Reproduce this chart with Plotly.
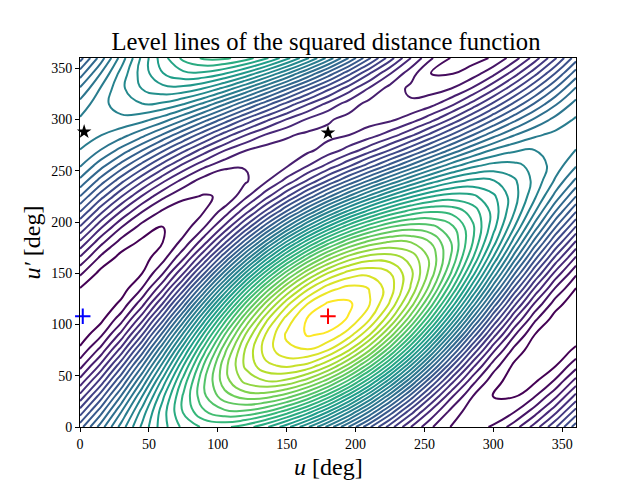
#!/usr/bin/env python
"""Level lines of the squared distance function, with the critical points marked."""

import numpy as np
import plotly.graph_objects as go

# grid of the two angles, degrees; the field repeats after 360 in both
U_DEG = list(range(0, 361, 15))
UP_DEG = list(range(0, 361, 15))

# level values per u column, u' = 0, 15, ..., 345 (estimated by counting level lines)
COL_000 = [10.56, 8.45, 6.33, 4.34, 2.60, 1.24, 0.36, 0.00, 0.21, 0.96, 2.19, 3.84, 5.78, 7.89, 10.01, 12.00, 13.74, 15.10, 15.98, 16.34, 16.13, 15.38, 14.15, 12.50]
COL_015 = [13.47, 11.59, 9.50, 7.32, 5.22, 3.34, 1.79, 0.71, 0.13, 0.13, 0.68, 1.76, 3.29, 5.17, 7.27, 9.45, 11.54, 13.43, 14.97, 16.05, 16.64, 16.64, 16.09, 15.00]
COL_030 = [16.44, 14.98, 13.12, 10.97, 8.71, 6.45, 4.37, 2.60, 1.26, 0.48, 0.25, 0.63, 1.58, 3.03, 4.89, 7.05, 9.31, 11.57, 13.65, 15.42, 16.73, 17.54, 17.77, 17.38]
COL_045 = [19.23, 18.39, 16.97, 15.08, 12.85, 10.41, 7.95, 5.65, 3.62, 2.04, 0.98, 0.56, 0.77, 1.60, 3.02, 4.91, 7.14, 9.58, 12.04, 14.35, 16.37, 17.96, 19.02, 19.45]
COL_060 = [21.59, 21.53, 20.76, 19.35, 17.38, 15.02, 12.39, 9.67, 7.08, 4.78, 2.92, 1.61, 1.00, 0.98, 1.82, 3.23, 5.19, 7.56, 10.19, 12.91, 15.50, 17.80, 19.67, 20.97]
COL_075 = [23.28, 24.11, 24.15, 23.40, 21.96, 19.88, 17.30, 14.44, 11.45, 8.57, 5.96, 3.82, 2.31, 1.49, 1.44, 2.19, 3.63, 5.71, 8.29, 11.15, 14.14, 17.02, 19.63, 21.78]
COL_090 = [24.18, 25.89, 26.82, 26.89, 26.14, 24.58, 22.32, 19.51, 16.37, 13.10, 9.91, 7.02, 4.64, 2.93, 2.00, 1.93, 2.50, 4.26, 6.50, 9.31, 12.45, 15.72, 18.91, 21.80]
COL_105 = [24.21, 26.79, 28.60, 29.58, 29.64, 28.73, 27.01, 24.51, 21.42, 17.98, 14.41, 10.96, 7.83, 5.26, 3.45, 2.10, 2.00, 3.32, 5.04, 7.53, 10.63, 14.05, 17.64, 21.09]
COL_120 = [23.52, 26.80, 29.45, 31.31, 32.20, 32.11, 31.02, 29.01, 26.21, 22.84, 19.09, 15.23, 11.54, 8.26, 5.61, 3.75, 2.86, 3.05, 4.04, 6.05, 8.85, 12.22, 15.97, 19.83]
COL_135 = [22.21, 26.03, 29.38, 32.01, 33.77, 34.49, 34.11, 32.73, 30.38, 27.25, 23.55, 19.51, 15.44, 11.62, 8.26, 5.63, 3.88, 3.00, 3.53, 4.91, 7.26, 10.40, 14.09, 18.13]
COL_150 = [20.37, 24.59, 28.48, 31.79, 34.24, 35.75, 36.17, 35.45, 33.69, 30.97, 27.50, 23.48, 19.26, 15.03, 11.14, 7.84, 5.35, 3.88, 3.45, 4.17, 5.94, 8.65, 12.12, 16.15]
COL_165 = [18.19, 22.59, 26.82, 30.62, 33.74, 35.93, 37.10, 37.10, 35.99, 33.81, 30.72, 26.92, 22.69, 18.29, 14.05, 10.26, 7.13, 4.95, 3.77, 3.77, 4.88, 7.06, 10.16, 13.95]
COL_180 = [15.70, 20.06, 24.46, 28.61, 32.21, 35.02, 36.85, 37.59, 37.17, 35.62, 33.05, 29.63, 25.60, 21.23, 16.84, 12.69, 9.09, 6.28, 4.44, 3.71, 4.13, 5.68, 8.25, 11.67]
COL_195 = [12.98, 17.14, 21.51, 25.81, 29.74, 33.07, 35.49, 36.90, 37.20, 36.36, 34.41, 31.53, 27.90, 23.73, 19.36, 15.06, 11.13, 7.80, 5.38, 3.97, 3.67, 4.51, 6.46, 9.35]
COL_210 = [10.19, 13.96, 18.11, 22.36, 26.45, 30.12, 33.06, 35.09, 36.07, 35.98, 34.76, 32.54, 29.43, 25.67, 21.51, 17.26, 13.17, 9.51, 6.59, 4.53, 3.55, 3.65, 4.86, 7.08]
COL_225 = [7.48, 10.65, 14.37, 18.42, 22.49, 26.31, 29.60, 32.20, 33.86, 34.49, 34.05, 32.58, 30.16, 27.00, 23.27, 19.23, 15.16, 11.34, 8.05, 5.45, 3.78, 3.00, 3.60, 5.07]
COL_240 = [5.02, 7.47, 10.62, 14.23, 18.06, 21.87, 25.35, 28.33, 30.57, 31.90, 32.29, 31.64, 30.04, 27.59, 24.44, 20.84, 17.00, 13.19, 9.71, 6.73, 4.49, 3.16, 2.78, 3.42]
COL_255 = [3.10, 4.71, 7.10, 10.08, 13.48, 17.04, 20.54, 23.72, 26.40, 28.35, 29.47, 29.69, 28.95, 27.34, 24.95, 21.97, 18.57, 15.01, 11.50, 8.33, 5.64, 3.70, 2.58, 1.98]
COL_270 = [1.90, 2.60, 4.11, 6.35, 9.11, 12.22, 15.52, 18.71, 21.62, 24.03, 25.79, 26.77, 26.92, 26.22, 24.71, 22.47, 19.71, 16.60, 13.30, 10.11, 7.20, 4.79, 3.03, 1.95]
COL_285 = [1.58, 1.39, 2.01, 3.36, 5.35, 7.84, 10.67, 13.64, 16.57, 19.22, 21.46, 23.08, 24.00, 24.20, 23.58, 22.23, 20.25, 17.75, 14.92, 11.95, 9.02, 6.37, 4.14, 2.51]
COL_300 = [2.13, 1.25, 0.98, 1.38, 2.50, 4.22, 6.44, 8.97, 11.66, 14.34, 16.78, 18.88, 20.45, 21.39, 21.66, 21.20, 20.08, 18.36, 16.14, 13.61, 10.92, 8.24, 5.80, 3.70]
COL_315 = [3.49, 1.92, 0.92, 0.54, 0.81, 1.69, 3.15, 5.06, 7.31, 9.75, 12.21, 14.52, 16.50, 18.07, 19.07, 19.45, 19.19, 18.30, 16.84, 14.93, 12.68, 10.24, 7.78, 5.48]
COL_330 = [5.45, 3.49, 1.93, 0.83, 0.30, 0.35, 1.00, 2.19, 3.86, 5.87, 8.10, 10.37, 12.56, 14.53, 16.10, 17.19, 17.71, 17.66, 17.01, 15.82, 14.16, 12.14, 9.92, 7.64]
COL_345 = [7.85, 5.72, 3.77, 2.13, 0.93, 0.23, 0.08, 0.50, 1.46, 2.89, 4.69, 6.75, 8.92, 11.05, 12.99, 14.64, 15.84, 16.54, 16.69, 16.27, 15.31, 13.87, 12.08, 10.01]

COLUMNS = [COL_000, COL_015, COL_030, COL_045, COL_060, COL_075, COL_090, COL_105,
           COL_120, COL_135, COL_150, COL_165, COL_180, COL_195, COL_210, COL_225,
           COL_240, COL_255, COL_270, COL_285, COL_300, COL_315, COL_330, COL_345, COL_000]

# critical points
STAR_U = [180, 3]
STAR_UP = [287, 288]
MIN_U = [2]
MIN_UP = [108]
MAX_U = [180]
MAX_UP = [108]

TICKS = [0, 50, 100, 150, 200, 250, 300, 350]
FONT = "Liberation Serif"

z = np.array([col + col[:1] for col in COLUMNS]).T

fig = go.Figure()
fig.add_trace(
    go.Contour(
        x=U_DEG,
        y=UP_DEG,
        z=z,
        colorscale="Viridis",
        showscale=False,
        autocontour=False,
        contours=dict(coloring="lines", start=1, end=37, size=1, showlabels=False),
        line=dict(width=2, smoothing=1.3),
    )
)
fig.add_trace(
    go.Scatter(x=STAR_U, y=STAR_UP, mode="markers", cliponaxis=False,
               marker=dict(symbol="star", size=11, color="black"))
)
fig.add_trace(
    go.Scatter(x=MIN_U, y=MIN_UP, mode="markers", cliponaxis=False,
               marker=dict(symbol="cross-thin", size=11, line=dict(color="blue", width=2)))
)
fig.add_trace(
    go.Scatter(x=MAX_U, y=MAX_UP, mode="markers",
               marker=dict(symbol="cross-thin", size=11, line=dict(color="red", width=2)))
)

axis_style = dict(
    range=[0, 360],
    tickvals=TICKS,
    ticks="outside",
    ticklen=4,
    tickwidth=1,
    tickcolor="black",
    showline=True,
    linecolor="black",
    linewidth=1,
    mirror=True,
    showgrid=False,
    zeroline=False,
    automargin=False,
    tickfont=dict(family=FONT, size=14, color="black"),
)
fig.update_xaxes(**axis_style)
fig.update_yaxes(**axis_style)
fig.update_layout(
    width=632,
    height=472,
    margin=dict(l=72, r=64, t=50, b=53),
    plot_bgcolor="white",
    paper_bgcolor="white",
    showlegend=False,
    title=dict(
        text="Level lines of the squared distance function",
        font=dict(family=FONT, size=24.6, color="black"),
        x=318 / 632,
        xanchor="center",
        y=1 - 33 / 472,
        yanchor="middle",
    ),
    annotations=[
        dict(text="<i>u</i> [deg]", xref="paper", yref="paper", x=0.5, y=-0.108,
             showarrow=False, yanchor="middle", font=dict(family=FONT, size=24, color="black")),
        dict(text="<i>u′</i> [deg]", xref="paper", yref="paper", x=-0.097, y=0.5,
             showarrow=False, textangle=-90, xanchor="center", font=dict(family=FONT, size=24, color="black")),
    ],
)

fig.write_html("out.html")
